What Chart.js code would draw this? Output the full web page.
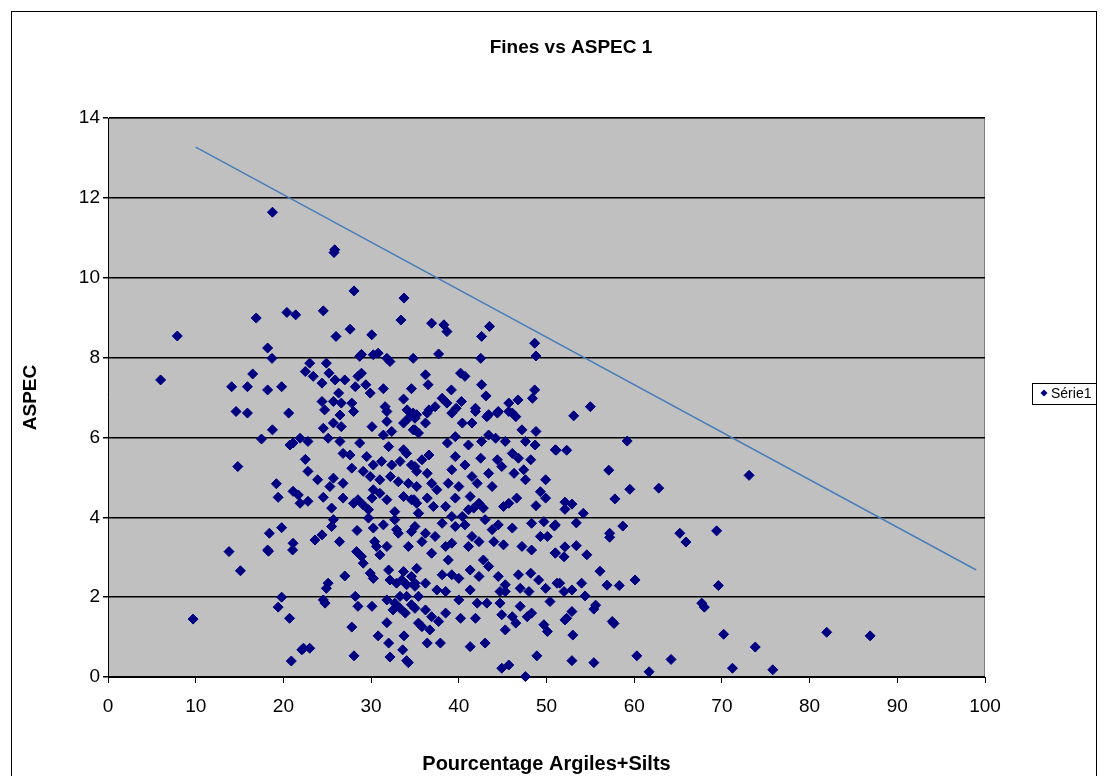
<!DOCTYPE html>
<html>
<head>
<meta charset="utf-8">
<script src="https://cdn.jsdelivr.net/npm/chart.js@4/dist/chart.umd.min.js"></script>
<style>
  html, body { margin: 0; background: #fff; }
  #wrap { width: 1108px; height: 776px; }
</style>
</head>
<body>
<div id="wrap"><canvas id="chart" width="1108" height="776"></canvas></div>
<script>
// Série1 : [Pourcentage Argiles+Silts, ASPEC]
const series1 = [
  [6.0,7.44],[7.9,8.54],[9.7,1.45],[13.8,3.14],[14.1,7.27],[14.6,6.65],[14.8,5.27],[15.1,2.66],[15.9,6.61],[15.9,7.27],
  [16.5,7.59],[16.9,8.99],[17.5,5.96],[18.2,8.24],[18.2,7.19],[18.2,3.18],[18.3,3.15],[18.4,3.6],[18.7,7.98],[18.75,11.64],
  [18.75,6.19],[19.2,4.84],[19.4,4.5],[19.4,1.75],[19.8,2.0],[19.8,3.74],[19.8,7.27],
  [20.4,9.13],[21.4,9.07],[20.6,6.61],[20.75,5.81],[21.1,5.86],[21.9,5.98],[22.8,5.9],[22.5,5.45],[22.8,5.15],[23.9,4.94],
  [21.1,4.65],[21.7,4.56],[21.9,4.35],[22.8,4.4],[21.1,3.35],[21.05,3.18],[23.6,3.43],[24.4,3.56],[20.7,1.47],[20.9,0.4],
  [22.1,0.68],[22.3,0.72],[23.0,0.72],
  [23.0,7.86],[22.5,7.65],[23.4,7.53],[24.4,7.36],[24.9,7.86],[25.2,7.61],[25.9,7.44],[27.0,7.44],[24.55,9.17],[25.77,10.63],
  [25.85,10.7],[28.05,9.67],[26.0,8.53],[27.6,8.71],[30.07,8.57],[33.4,8.94],[33.75,9.49],
  [28.9,8.08],[30.25,8.07],[30.8,8.11],[31.8,7.98],[32.15,7.9],[28.7,8.03],[34.8,7.98],
  [28.9,7.61],[28.5,7.53],[28.2,7.27],[29.4,7.32],[29.9,7.11],[26.3,7.11],[26.6,6.86],[25.7,6.9],[24.4,6.9],[24.7,6.69],
  [27.8,6.86],[28.0,6.65],[31.4,7.22],[31.6,6.77],[31.8,6.65],[33.7,6.96],[34.6,7.22],[34.8,6.61],[34.1,6.69],
  [25.7,6.36],[26.45,6.56],[26.6,6.27],[24.55,6.23],[25.1,5.98],[26.45,5.9],[28.7,5.86],[26.8,5.6],[27.6,5.56],[29.5,5.52],
  [27.8,5.23],[30.1,6.27],[31.8,6.4],[31.4,6.06],[32.35,6.15],[33.7,6.36],[34.25,6.48],[34.8,6.19],[35.4,6.11],[32.0,5.77],
  [33.7,5.69],[34.05,5.6],[30.25,5.31],[31.2,5.4],[32.35,5.31],[33.3,5.4],[34.6,5.31],[29.1,5.15],[29.9,5.02],[31.0,4.94],
  [32.2,5.02],[33.1,4.89],[34.25,4.85],[35.2,5.15],[25.3,4.77],[25.7,4.98],[26.8,4.85],[24.55,4.5],[26.8,4.48],[28.0,4.35],
  [28.5,4.44],[25.5,4.23],[25.7,3.94],[25.5,3.77],[29.1,4.31],[29.7,4.19],[30.25,4.69],[31.0,4.6],[30.1,4.48],[31.8,4.44],
  [32.7,4.14],[33.7,4.52],[34.6,4.44],[35.2,4.35],[29.7,3.98],[32.7,3.94],[35.4,4.1],[28.4,3.67],[30.25,3.73],[31.4,3.81],
  [32.9,3.69],[33.1,3.6],[34.6,3.64],[26.4,3.39],[30.4,3.39],[30.6,3.27],[31.8,3.27],[31.0,3.06],[34.25,3.27],[28.35,3.14],
  [28.9,3.02],[29.1,2.85],[27.0,2.53],[25.1,2.35],[24.9,2.22],[29.9,2.6],[30.25,2.47],[32.0,2.68],[32.15,2.43],[32.9,2.35],
  [33.7,2.64],[33.5,2.43],[34.05,2.31],[34.6,2.52],[35.0,2.27],[35.2,2.72],[24.55,1.93],[24.75,1.85],[28.2,2.02],[28.5,1.77],
  [30.1,1.77],[31.8,1.93],[32.7,1.85],[33.3,1.72],[34.05,2.02],[34.6,1.81],[33.3,2.02],[32.5,1.68],[33.9,1.6],[35.4,1.35],
  [27.8,1.25],[31.8,1.36],[30.8,1.03],[32.0,0.85],[33.75,1.03],[33.6,0.68],[28.05,0.53],[32.15,0.5],[34.05,0.41],[34.25,0.36],
  [36.9,8.86],[38.3,8.82],[38.65,8.65],[43.5,8.78],[42.6,8.53],[48.65,8.36],[48.8,8.04],[37.7,8.09],[42.5,7.98],[36.2,7.57],
  [36.5,7.32],[40.2,7.61],[40.7,7.53],[42.6,7.32],[43.1,7.04],[48.65,7.19],[48.4,6.98],[39.15,7.19],[38.1,6.98],[38.65,6.86],
  [40.3,6.9],[39.7,6.73],[36.6,6.69],[37.3,6.77],[35.2,6.57],[41.9,6.73],[43.4,6.57],[44.5,6.65],[45.7,6.86],[46.75,6.94],
  [46.1,6.61],
  [36.4,6.61],[36.2,6.36],[35.0,6.19],[39.2,6.61],[40.4,6.36],[41.5,6.36],[41.9,6.65],[43.2,6.52],[44.4,6.61],[45.7,6.65],
  [46.5,6.52],[47.2,6.19],[48.8,6.15],[35.0,6.48],[38.7,5.86],[39.6,6.02],[41.1,5.81],[42.6,5.9],[43.4,6.06],[44.2,5.98],
  [45.3,5.9],[47.6,5.9],[48.7,5.81],[51.0,5.69],[39.6,5.52],[42.5,5.48],[44.4,5.44],[46.1,5.6],[46.8,5.48],[48.2,5.44],
  [36.6,5.56],[35.8,5.44],[35.0,5.27],[36.4,5.1],[39.2,5.19],[40.7,5.31],[41.5,5.02],[43.4,5.1],[44.9,5.27],[46.3,5.1],
  [47.4,5.19],[47.6,4.94],[49.9,4.94],[36.9,4.85],[37.5,4.69],[38.8,4.85],[40.0,4.77],[42.1,4.85],[43.8,4.77],[49.3,4.64],
  [49.9,4.48],[35.2,4.77],[34.9,4.44],[36.4,4.48],[37.1,4.27],[38.5,4.27],[39.6,4.48],[41.3,4.52],[42.3,4.35],[42.8,4.23],
  [41.7,4.23],[45.1,4.27],[45.7,4.35],[46.6,4.48],[48.8,4.29],[35.4,4.1],[39.2,4.02],[40.4,4.02],[41.1,4.19],[35.0,3.77],
  [36.2,3.6],[38.1,3.85],[39.6,3.77],[40.7,3.81],[41.5,3.52],[43.0,3.94],[43.8,3.69],[44.5,3.81],[46.1,3.73],[48.3,3.85],
  [49.7,3.89],[51.0,3.81],[35.8,3.39],[37.3,3.52],[38.5,3.27],[39.2,3.35],[41.1,3.27],[42.3,3.39],[44.0,3.39],[45.1,3.31],
  [47.2,3.27],[48.3,3.18],[49.3,3.52],[50.1,3.52],[51.0,3.1],[36.9,3.1],[38.8,2.93],[41.3,2.68],[42.8,2.93],[43.4,2.77],
  [42.3,2.52],[44.5,2.52],[45.3,2.31],[46.8,2.56],[48.2,2.6],[49.1,2.43],[49.9,2.22],[47.0,2.22],[48.0,2.14],[51.2,2.35],
  [35.0,2.35],[36.2,2.35],[37.5,2.18],[38.5,2.14],[38.1,2.56],[39.2,2.56],[40.0,2.47],[41.3,2.18],[44.7,2.14],[45.3,2.14],
  [35.4,2.02],[40.0,1.93],[42.1,1.85],[43.2,1.85],[44.7,1.85],[47.0,1.77],[50.4,1.89],[35.0,1.72],[36.2,1.68],[36.9,1.51],
  [38.5,1.6],[37.7,1.39],[35.8,1.26],[36.7,1.18],[40.2,1.47],[41.9,1.47],[44.9,1.56],[46.1,1.51],[46.5,1.35],[47.8,1.51],
  [48.3,1.6],[49.7,1.31],[50.1,1.14],[45.3,1.18],[36.4,0.85],[37.9,0.85],[41.3,0.76],[43.0,0.85],[44.9,0.22],[45.7,0.3],
  [48.9,0.53],[47.6,0.01],
  [53.1,6.54],[55.0,6.77],[59.2,5.91],[51.1,5.68],[52.3,5.68],[57.1,5.18],[59.5,4.7],[62.8,4.73],[57.8,4.46],[52.1,4.38],
  [52.9,4.33],[52.1,4.2],[54.2,4.1],[50.9,3.78],[53.4,3.86],[57.2,3.6],[57.2,3.5],[58.7,3.78],[65.2,3.6],[65.9,3.38],
  [52.1,3.26],[53.4,3.29],[51.0,3.11],[52.0,3.01],[54.6,3.06],[56.1,2.65],[51.5,2.35],[52.0,2.14],[52.9,2.18],[54.0,2.35],
  [54.4,2.03],[56.9,2.3],[58.3,2.29],[60.1,2.43],[55.6,1.8],[55.4,1.7],[52.9,1.64],[52.3,1.47],[52.1,1.43],[57.5,1.39],
  [57.7,1.34],[53.0,1.05],[52.9,0.41],[55.4,0.36],[60.3,0.53],[61.7,0.13],[64.2,0.44],
  [73.1,5.05],[69.4,3.66],[69.6,2.29],[67.7,1.85],[68.0,1.75],[70.2,1.07],[73.8,0.75],[71.2,0.22],[75.8,0.18],[81.95,1.12],
  [86.9,1.03]
];

// straight line drawn across the plot
const trendX = [10, 99];
const trendY = [13.27, 2.68];

const xTicks = [0, 10, 20, 30, 40, 50, 60, 70, 80, 90, 100];
const yTicks = [0, 2, 4, 6, 8, 10, 12, 14];

const FONT = '"Liberation Sans", Arial, sans-serif';

const frame = {
  id: 'frame',
  beforeDraw(chart) {
    const { ctx, chartArea: a } = chart;
    ctx.save();
    ctx.fillStyle = '#fff';
    ctx.fillRect(0, 0, chart.width, chart.height);
    ctx.strokeStyle = '#000';
    ctx.lineWidth = 1;
    ctx.strokeRect(11.5, 11.5, 1085, 800);
    ctx.fillStyle = '#c0c0c0';
    ctx.fillRect(a.left, a.top, a.right - a.left, a.bottom - a.top);
    ctx.strokeStyle = '#808080';
    ctx.strokeRect(a.left + 0.5, a.top + 0.5, a.right - a.left - 1, a.bottom - a.top - 1);
    ctx.restore();
  },
  afterDraw(chart) {
    // legend box on the right
    const { ctx } = chart;
    ctx.save();
    ctx.fillStyle = '#fff';
    ctx.fillRect(1032, 383, 65, 21);
    ctx.strokeStyle = '#000';
    ctx.lineWidth = 1;
    ctx.strokeRect(1032.5, 383.5, 64, 21);
    ctx.fillStyle = '#000080';
    ctx.beginPath();
    ctx.moveTo(1044, 389.5);
    ctx.lineTo(1047.5, 393);
    ctx.lineTo(1044, 396.5);
    ctx.lineTo(1040.5, 393);
    ctx.closePath();
    ctx.fill();
    ctx.fillStyle = '#000';
    ctx.font = '14px ' + FONT;
    ctx.textBaseline = 'middle';
    ctx.fillText(chart.data.datasets[0].label, 1051, 394);
    ctx.restore();
  }
};

new Chart(document.getElementById('chart'), {
  type: 'scatter',
  data: {
    datasets: [
      {
        label: 'Série1',
        data: series1.map(([x, y]) => ({ x, y })),
        pointStyle: 'rectRot',
        pointRadius: 5,
        pointBorderWidth: 1,
        backgroundColor: '#000080',
        borderColor: '#000080',
        clip: false,
        order: 2
      },
      {
        label: 'line',
        type: 'line',
        data: trendX.map((x, i) => ({ x, y: trendY[i] })),
        borderColor: '#4a7ebb',
        borderWidth: 1.5,
        pointRadius: 0,
        fill: false,
        order: 1
      }
    ]
  },
  options: {
    responsive: false,
    animation: false,
    events: [],
    // negative right padding moves the centre of the title to the right
    layout: { padding: { left: 0, top: 0, bottom: 0, right: -34 } },
    plugins: {
      legend: { display: false },
      tooltip: { enabled: false },
      title: {
        display: true,
        text: 'Fines vs ASPEC 1',
        color: '#000',
        font: { family: FONT, size: 19, weight: 'bold' },
        padding: { top: 36, bottom: 59.2 }
      }
    },
    scales: {
      x: {
        type: 'linear',
        position: 'bottom',
        min: 0,
        max: 100,
        afterBuildTicks: (s) => { s.ticks = xTicks.map((v) => ({ value: v })); },
        afterFit: (s) => { s.height = 99; },
        ticks: { color: '#000', font: { family: FONT, size: 19 }, padding: 12 },
        grid: { drawOnChartArea: false, tickLength: 6, color: '#000' },
        border: { color: '#000', width: 1 },
        title: {
          display: true,
          text: 'Pourcentage Argiles+Silts',
          color: '#000',
          font: { family: FONT, size: 20, weight: 'bold' },
          padding: { top: 0, bottom: 0 }
        }
      },
      y: {
        type: 'linear',
        position: 'left',
        min: 0,
        max: 14,
        afterBuildTicks: (s) => { s.ticks = yTicks.map((v) => ({ value: v })); },
        afterFit: (s) => { s.width = 108; },
        ticks: { color: '#000', font: { family: FONT, size: 19 }, padding: 3 },
        grid: { color: '#000', lineWidth: 1.5, tickLength: 5 },
        border: { color: '#000', width: 1 },
        title: {
          display: true,
          text: 'ASPEC',
          color: '#000',
          font: { family: FONT, size: 19, weight: 'bold' },
          padding: { top: 19, bottom: 0 }
        }
      },
      side: {
        type: 'linear',
        position: 'right',
        afterFit: (s) => { s.width = 157; },
        ticks: { display: false },
        grid: { display: false },
        border: { display: false }
      }
    }
  },
  plugins: [frame]
});
</script>
</body>
</html>
